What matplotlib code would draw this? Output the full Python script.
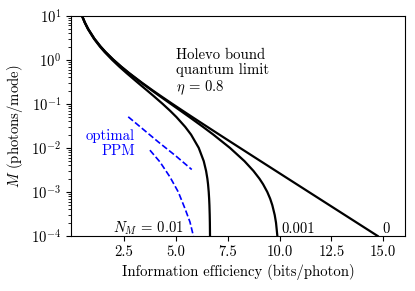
import numpy as np
import matplotlib
matplotlib.use("Agg")
import matplotlib.pyplot as plt

plt.rcParams['font.family'] = 'serif'
plt.rcParams['font.serif'] = ['cmr10']
plt.rcParams['mathtext.fontset'] = 'cm'
plt.rcParams['axes.formatter.use_mathtext'] = True
plt.rcParams['font.size'] = 10.6

# mean photon number per mode (y axis)
M_vals = [10, 7, 5, 3, 2, 1.5, 1, 0.7, 0.5, 0.3, 0.2, 0.15, 0.1, 0.07, 0.05,
          0.03, 0.02, 0.01, 0.005, 0.003, 0.002, 0.0015, 0.001, 7e-4, 5e-4,
          3e-4, 2e-4, 1e-4]
# information efficiency (bits/photon) for each noise level N_M
eff_N0 = [0.483, 0.621, 0.780, 1.082, 1.377, 1.618, 2.000, 2.374, 2.755, 3.377,
          3.900, 4.283, 4.834, 5.329, 5.800, 6.523, 7.101, 8.094, 9.090, 9.826,
          10.410, 10.825, 11.409, 11.924, 12.409, 13.146, 13.731, 14.731]
eff_N0001 = [0.482, 0.620, 0.778, 1.078, 1.372, 1.611, 1.990, 2.359, 2.735, 3.346,
             3.856, 4.226, 4.755, 5.222, 5.660, 6.312, 6.812, 7.612, 8.312, 8.745,
             9.034, 9.208, 9.411, 9.551, 9.654, 9.769, 9.832, 9.897]
eff_N001 = [0.476, 0.610, 0.764, 1.056, 1.340, 1.569, 1.929, 2.276, 2.625, 3.177,
            3.623, 3.936, 4.365, 4.721, 5.034, 5.455, 5.738, 6.108, 6.349, 6.462,
            6.524, 6.556, 6.589, 6.609, 6.623, 6.637, 6.644, 6.651]

# optimal PPM (dashed)
ppm_up_x = [2.71, 4.155, 5.00, 5.77]
ppm_up_M = [0.0507, 0.01368, 0.00658, 0.00323]
ppm_lo_x = [3.755, 4.237, 4.720, 5.121, 5.444, 5.685, 5.85]
ppm_lo_M = [0.00887, 0.00481, 0.00219, 0.001, 0.00042, 0.000208, 0.0001]

fig = plt.figure(figsize=(4.15, 2.91), dpi=100)
ax = fig.add_axes([0.171, 0.189, 0.805, 0.757])

for eff in (eff_N0, eff_N0001, eff_N001):
    ax.plot(eff, M_vals, color='black', lw=1.6)

ax.plot(ppm_up_x, ppm_up_M, color='#0000ff', lw=1.2, ls='--')
ax.plot(ppm_lo_x, ppm_lo_M, color='#0000ff', lw=1.2, ls='--')

ax.set_yscale('log')
ax.set_ylim(1e-4, 10)
ax.set_xlim(-0.05, 16.05)
ax.set_xticks([2.5, 5.0, 7.5, 10.0, 12.5, 15.0])
ax.set_xticklabels(['2.5', '5.0', '7.5', '10.0', '12.5', '15.0'])

ax.set_xlabel('Information efficiency (bits/photon)', labelpad=3)
ax.set_ylabel(r'$M$ (photons/mode)')

ax.text(5.0, 1.8, 'Holevo bound\nquantum limit\n' + r'$\eta\,=\,0.8$',
        ha='left', va='top', linespacing=1.1)
ax.text(3.03, 0.0126, 'optimal\nPPM', color='#0000ff', ha='right',
        va='center', multialignment='right', linespacing=1.1)
ax.text(5.38, 1.2e-4, r'$N_M\,=\,0.01$', ha='right', va='baseline')
ax.text(10.11, 1.2e-4, '0.001', ha='left', va='baseline')
ax.text(14.94, 1.2e-4, '0', ha='left', va='baseline')

fig.savefig('out.png', dpi=100)
